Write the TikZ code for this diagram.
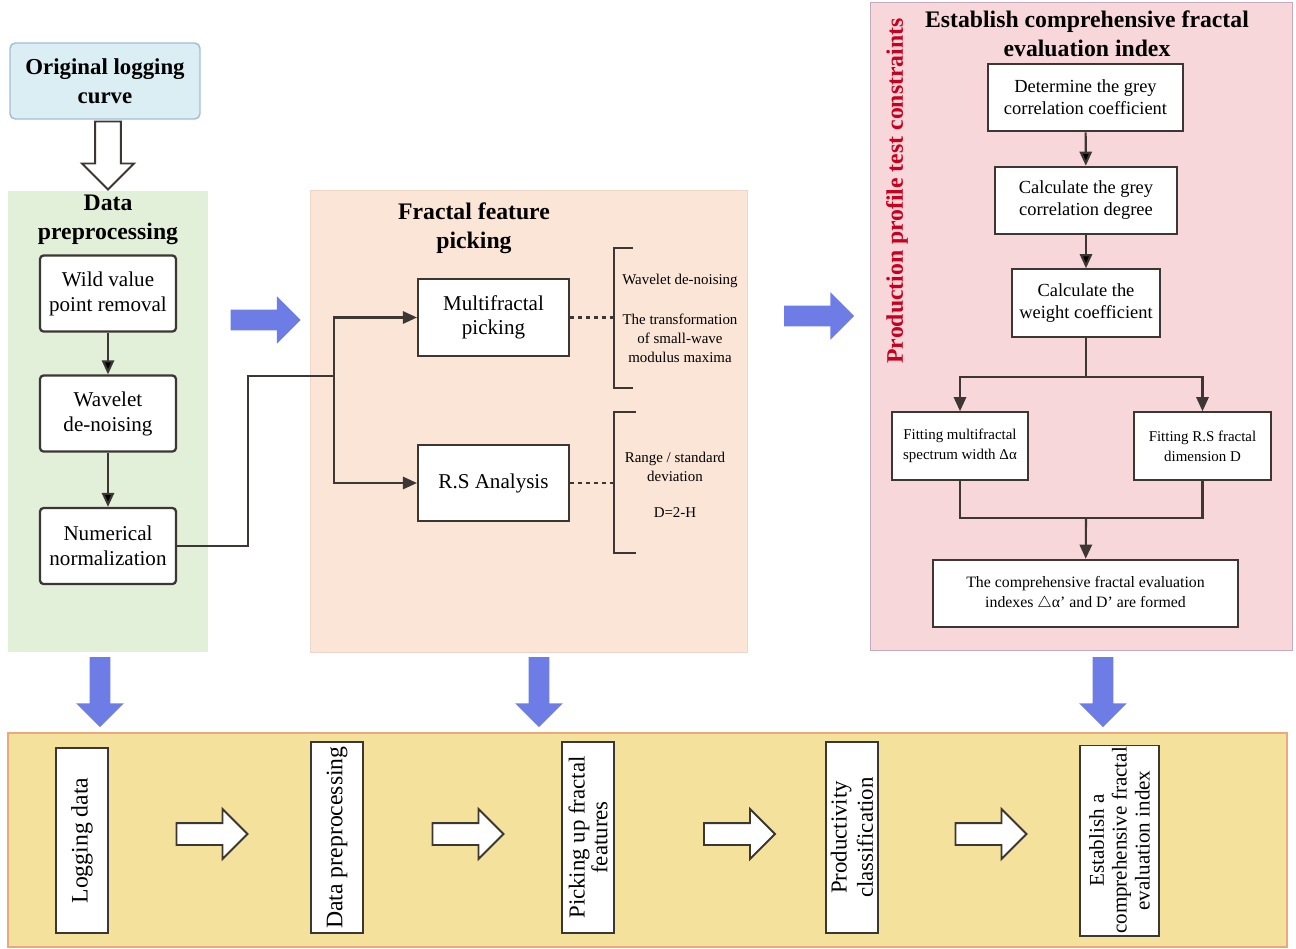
\documentclass[tikz,border=0pt]{standalone}
\usepackage{fontspec}
\setmainfont{Liberation Serif}
\usepackage{xcolor}
\usepackage{tikz}
\usetikzlibrary{arrows.meta}
\usetikzlibrary{shapes.arrows}
\usetikzlibrary{positioning}

\definecolor{bluebox}{RGB}{218,238,243}
\definecolor{blueline}{RGB}{160,190,210}
\definecolor{greenpanel}{RGB}{226,240,217}
\definecolor{peachpanel}{RGB}{251,229,214}
\definecolor{peachline}{RGB}{238,214,200}
\definecolor{pinkpanel}{RGB}{248,215,218}
\definecolor{pinkline}{RGB}{200,170,190}
\definecolor{goldpanel}{RGB}{244,225,155}
\definecolor{goldline}{RGB}{232,170,125}
\definecolor{bigblue}{RGB}{110,125,230}
\definecolor{darkline}{RGB}{60,55,50}
\definecolor{redtext}{RGB}{200,0,30}

\tikzset{
	link/.style = {draw=darkline, line width=1.2pt},
	bracket/.style = {draw=darkline, line width=1.2pt}
}

\begin{document}
\begin{tikzpicture}[x=0.02cm, y=-0.02cm]
		\useasboundingbox (0,0) rectangle (1296,948);
		% panels
		\fill[greenpanel] (8,191) rectangle (208,652);
		\filldraw[fill=peachpanel, draw=peachline] (310,190) rectangle (747,652);
		\filldraw[fill=pinkpanel, draw=pinkline] (870,2) rectangle (1292,650);
		\filldraw[fill=goldpanel, draw=goldline, line width=1pt] (8,733) rectangle (1287,947);

		\node[draw=blueline, fill=bluebox, line width=0.8pt, rounded corners=3pt, align=center,
			minimum width=3.8cm, minimum height=1.52cm, font=\fontsize{13}{16.4}\selectfont\bfseries] (orig) at (105,81) {Original logging\\curve};

		\begin{scope}[every node/.style = {align=center, font=\fontsize{13.5}{16.6}\selectfont\bfseries}]
			\node (preptitle) at (108,220) {Data\\preprocessing};
			\node (picktitle) at (474,228) {Fractal feature\\picking};
			\node (indextitle) at (1087,34) {Establish comprehensive fractal\\evaluation index};
			\node[text=redtext, rotate=90] (constraint) at (897,191) {Production profile test constraints};
		\end{scope}

		\begin{scope}[every node/.style = {draw=darkline, line width=1.3pt, rounded corners=2pt, fill=white, align=center,
				minimum width=2.72cm, minimum height=1.52cm, font=\fontsize{12}{14.2}\selectfont}]
			\node (wild) at (108,293.5) {Wild value\\point removal};
			\node (wavelet) at (108,413.5) {Wavelet\\de-noising};
			\node (numnorm) at (108,546) {Numerical\\normalization};
		\end{scope}

		\begin{scope}[every node/.style = {draw=darkline, line width=1.2pt, fill=white, align=center,
				minimum width=3.02cm, minimum height=1.53cm, font=\fontsize{12}{13.6}\selectfont}]
			\node (multi) at (493.5,317.5) {Multifractal\\picking};
			\node (rs) at (493.5,483) {R.S Analysis};
		\end{scope}

		\begin{scope}[every node/.style = {draw=darkline, line width=1.2pt, fill=white, align=center,
				minimum height=1.35cm, font=\fontsize{10.5}{12.5}\selectfont}]
			\node[minimum width=3.9cm] (det) at (1085.5,97.5) {Determine the grey\\correlation coefficient};
			\node[minimum width=3.64cm] (calcdeg) at (1086,200.5) {Calculate the grey\\correlation degree};
			\node[minimum width=2.96cm] (weight) at (1086,303) {Calculate the\\weight coefficient};
			\node[minimum width=2.72cm, font=\fontsize{8.5}{11.3}\selectfont] (fita) at (960,446) {Fitting multifractal\\spectrum width Δα};
			\node[minimum width=2.74cm, font=\fontsize{8.5}{11.3}\selectfont] (fitb) at (1202.5,446) {Fitting R.S fractal\\dimension D};
			\node[minimum width=6.1cm, font=\fontsize{9}{11.3}\selectfont] (formed) at (1085.5,593.5) {The comprehensive fractal evaluation\\indexes $\triangle$α' and D' are formed};
		\end{scope}

		% notes beside the brackets
		\begin{scope}[every node/.style = {align=center, font=\fontsize{8.5}{10.8}\selectfont}]
			\node (wavenote) at (680,281) {Wavelet de-noising};
			\node (transnote) at (680,338) {The transformation\\of small-wave\\modulus maxima};
			\node (rangenote) at (675,467) {Range / standard\\deviation};
			\node (dnote) at (675,513) {D=2-H};
		\end{scope}
		\draw[bracket] (633,248) -- (614,248) -- (614,388) -- (633,388);
		\draw[bracket] (636,412) -- (614,412) -- (614,553) -- (636,553);

		\begin{scope}[every node/.style = {draw=darkline, line width=1pt, fill=white, rotate=90, align=center,
				minimum height=1.04cm, inner sep=1pt, font=\fontsize{13.5}{14}\selectfont}]
			\node[minimum width=3.7cm] (logdata) at (82,840.5) {Logging data};
			\node[minimum width=3.82cm] (dataprep) at (337,837.5) {Data preprocessing};
			\node[minimum width=3.82cm, font=\fontsize{13}{13}\selectfont] (pickup) at (588,837.5) {Picking up fractal\\features};
			\node[minimum width=3.82cm, font=\fontsize{13}{15}\selectfont] (prodclass) at (852,837.5) {Productivity\\classification};
			\node[minimum width=3.7cm, minimum height=1.58cm, font=\fontsize{12}{13}\selectfont] (establish) at (1119.5,840.5) {Establish a\\comprehensive fractal\\evaluation index};
		\end{scope}

		% block arrows
		\begin{scope}[every node/.style = {single arrow, fill=bigblue, inner xsep=0pt, inner ysep=0.2cm, minimum width=0.95cm,
				single arrow head extend=0.27cm, minimum height=1.4cm}]
			\node (toPick) at (260.5,320) {};
			\node (toIndex) at (814,316) {};
			\node[rotate=-90] (downPrep) at (100,687) {};
			\node[rotate=-90] (downPick) at (539,687) {};
			\node[rotate=-90] (downIndex) at (1103,687) {};
		\end{scope}
		\begin{scope}[every node/.style = {single arrow, draw=darkline, line width=1.1pt, fill=white, inner xsep=0pt, inner ysep=0.2cm,
				minimum width=0.96cm, single arrow head extend=0.28cm, minimum height=1.42cm}]
			\node[rotate=-90, inner ysep=0.24cm, minimum width=1.0cm, single arrow head extend=0.26cm, minimum height=1.36cm] (downOrig) at (108,149) {};
			\node (stepA) at (206.5,834) {};
			\node (stepB) at (462.5,834) {};
			\node (stepC) at (734,834) {};
			\node (stepD) at (985.5,834) {};
		\end{scope}

		% connectors
		\begin{scope}[>={Triangle[length=8pt, width=7pt]}]
			\path[link, ->] (wild) edge (wavelet);
			\path[link, ->] (wavelet) edge (numnorm);

			\coordinate (elbow) at (248,376);
			\coordinate (split) at (334,376);
			\draw[link] (numnorm.east) -| (elbow) -- (split);
			\draw[link, ->] (split) |- (multi.west);
			\draw[link, ->] (split) |- (rs.west);

			\coordinate (brackA) at (614,317.5);
			\coordinate (brackB) at (614,483);
			\draw[link, dash pattern=on 2.5pt off 2pt] (multi.east) -- (brackA);
			\draw[link, dash pattern=on 2.5pt off 2pt] (rs.east) -- (brackB);

			\path[link, ->] (det) edge (calcdeg);
			\path[link, ->] (calcdeg) edge (weight);
			\coordinate (wsplit) at (1086,377);
			\coordinate (merge) at (1086,518);
			\draw[link] (weight) -- (wsplit);
			\draw[link, ->] (wsplit) -| (fita);
			\draw[link, ->] (wsplit) -| (fitb);
			\draw[link] (fita) |- (merge);
			\draw[link] (fitb) |- (merge);
			\draw[link, ->] (merge) -- (formed);
		\end{scope}
	\end{tikzpicture}
\end{document}
